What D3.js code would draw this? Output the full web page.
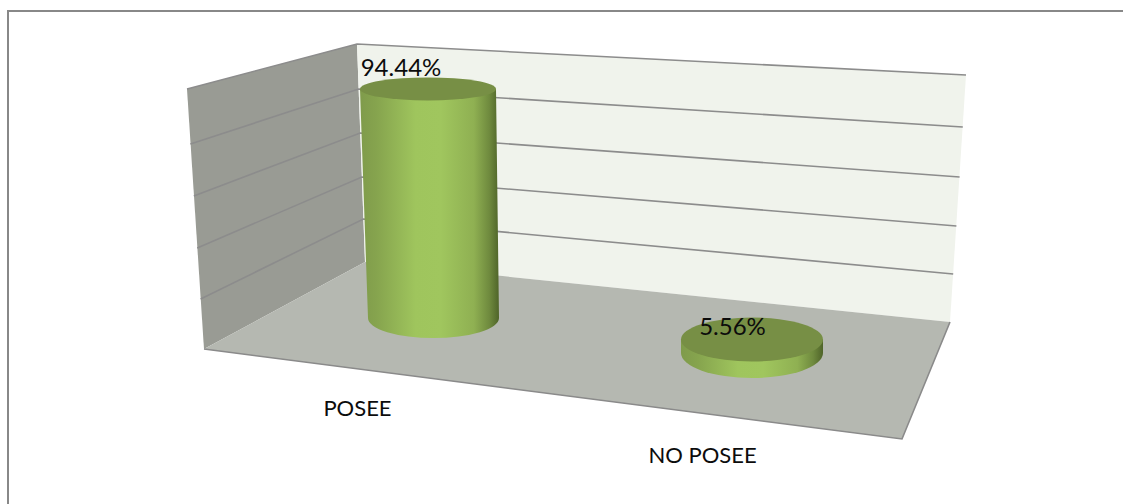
<!DOCTYPE html>
<html>
<head>
<meta charset="utf-8">
<script src="https://cdn.jsdelivr.net/npm/d3@7"></script>
<style>
  html, body { margin: 0; padding: 0; background: #fff; }
  svg { display: block; }
  text { font-family: Lato, "Open Sans", sans-serif; fill: #0c0c0c; }
</style>
</head>
<body>
<svg id="chart" width="1123" height="504"></svg>
<script>
// Chart values
const categories = ["POSEE", "NO POSEE"];
const shares = [94.44, 5.56];
const gridTicks = [0, 20, 40, 60, 80, 100];

const svg = d3.select("#chart");
const defs = svg.append("defs");

// Projected box: each upright edge of the 3D frame gets its own value scale,
// piecewise because perspective spaces the gridlines slightly unevenly
const outerLeftY = d3.scaleLinear().domain(gridTicks).range([349, 299, 248, 196, 144, 89]);
const outerLeftX = d3.scaleLinear().domain([0, 100]).range([204, 187]);
const innerY = d3.scaleLinear().domain(gridTicks).range([262, 219, 177, 133, 89, 44]);
const innerX = d3.scaleLinear().domain([0, 100]).range([365, 357]);
const rightY = d3.scaleLinear().domain(gridTicks).range([322, 274, 226, 177, 127, 75]);
const rightX = d3.scaleLinear().domain([0, 100]).range([950, 966]);

// Floor placement and column height
const floorX = d3.scalePoint().domain(categories).range([433.5, 752]);
const floorY = d3.scalePoint().domain(categories).range([318, 353]);
const heightOf = d3.scaleLinear().domain([0, 100]).range([0, 242.5]);

// Foreshortening of each column: ellipse radii at the base and at the cap, sideways drift of the cap
const perspective = {
  "POSEE": { rxBase: 65.5, ryBase: 20, rxCap: 68, ryCap: 11.5, drift: -5.5 },
  "NO POSEE": { rxBase: 71, ryBase: 25, rxCap: 71, ryCap: 22, drift: 0 }
};

// Frame around the chart area
svg.append("path")
  .attr("d", "M8,504V11H1123")
  .attr("fill", "none").attr("stroke", "#888888").attr("stroke-width", 2);

const line = d3.line();

// Side wall
svg.append("path")
  .attr("d", line([[outerLeftX(0), outerLeftY(0)], [outerLeftX(100), outerLeftY(100)], [innerX(100), innerY(100)], [innerX(0), innerY(0)]]) + "Z")
  .attr("fill", "#999b94");

// Back wall
svg.append("path")
  .attr("d", line([[innerX(0), innerY(0)], [innerX(100), innerY(100)], [rightX(100), rightY(100)], [rightX(0), rightY(0)]]) + "Z")
  .attr("fill", "#f0f3ec");

// Floor
svg.append("path")
  .attr("d", line([[outerLeftX(0), outerLeftY(0)], [innerX(0), innerY(0)], [rightX(0), rightY(0)], [902, 439]]) + "Z")
  .attr("fill", "#b5b8b1");

// Floor edges
svg.append("path")
  .attr("d", line([[outerLeftX(0), outerLeftY(0)], [902, 439], [rightX(0), rightY(0)]]))
  .attr("fill", "none").attr("stroke", "#8a8a8a").attr("stroke-width", 1.6);

// Gridlines wrapping the two walls
gridTicks.filter(t => t > 0).forEach(t => {
  svg.append("path")
    .attr("d", line([[outerLeftX(t), outerLeftY(t)], [innerX(t), innerY(t)], [rightX(t), rightY(t)]]))
    .attr("fill", "none").attr("stroke", "#8c8c8c").attr("stroke-width", 1.6);
});

// Shading across a cylinder's curved side
const sideGradient = defs.append("linearGradient").attr("id", "side")
  .attr("x1", 0).attr("x2", 1).attr("y1", 0).attr("y2", 0);
[[0, "#7f9b4b"], [0.12, "#86a44e"], [0.4, "#9fc55d"], [0.58, "#a0c65e"], [0.82, "#8fb052"], [0.93, "#6f8a3e"], [1, "#4f6429"]]
  .forEach(([o, c]) => sideGradient.append("stop").attr("offset", o).attr("stop-color", c));

// Cylinders
categories.forEach((cat, i) => {
  const p = perspective[cat];
  const cx = floorX(cat);
  const by = floorY(cat);
  const topY = by - heightOf(shares[i]);
  const capX = cx + p.drift;
  const body = `M${capX - p.rxCap},${topY} L${cx - p.rxBase},${by} ` +
    `A${p.rxBase},${p.ryBase} 0 0 0 ${cx + p.rxBase},${by} ` +
    `L${capX + p.rxCap},${topY} Z`;
  svg.append("path").attr("d", body).attr("fill", "url(#side)");
  svg.append("ellipse")
    .attr("cx", capX).attr("cy", topY)
    .attr("rx", p.rxCap).attr("ry", p.ryCap)
    .attr("fill", "#778f45");
});

// Category labels under the floor
const axisLabelAnchor = d3.scalePoint().domain(categories).range([357.5, 702.5]);
const axisLabelY = d3.scalePoint().domain(categories).range([416, 463]);
svg.selectAll("text.cat").data(categories).join("text").attr("class", "cat")
  .attr("x", d => axisLabelAnchor(d)).attr("y", d => axisLabelY(d))
  .attr("text-anchor", "middle").attr("font-size", 22)
  .text(d => d);

// Value labels above each cap
const valueAnchor = d3.scalePoint().domain(categories).range([401, 732.5]);
const valueY = d3.scalePoint().domain(categories).range([76, 335]);
svg.selectAll("text.val").data(shares).join("text").attr("class", "val")
  .attr("x", (d, i) => valueAnchor(categories[i])).attr("y", (d, i) => valueY(categories[i]))
  .attr("text-anchor", "middle").attr("font-size", 24)
  .text(d => d.toFixed(2) + "%");
</script>
</body>
</html>
